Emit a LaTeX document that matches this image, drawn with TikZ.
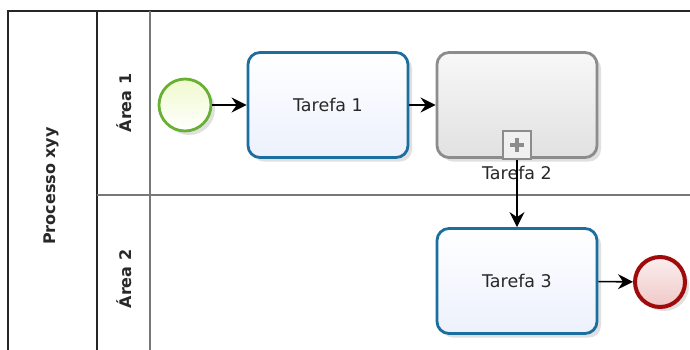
\documentclass[tikz,border=0pt]{standalone}
\usepackage{fontspec}
\setmainfont{DejaVu Sans}
\usetikzlibrary{arrows.meta,shadows}

\definecolor{taskline}{RGB}{28,110,158}
\definecolor{taskfill}{RGB}{236,241,253}
\definecolor{subline}{RGB}{140,140,140}
\definecolor{subfill}{RGB}{225,225,225}
\definecolor{startline}{RGB}{104,176,52}
\definecolor{startfill}{RGB}{240,250,205}
\definecolor{endline}{RGB}{160,10,10}
\definecolor{endfill}{RGB}{240,200,200}
\definecolor{laneline}{RGB}{120,120,120}
\definecolor{labeltext}{RGB}{40,40,40}

\tikzset{
  softshadow/.style={drop shadow={shadow xshift=4pt, shadow yshift=-4pt, opacity=0.12, fill=black}},
  task/.style={draw=taskline, line width=2.8pt, rounded corners=12pt,
    minimum width=160pt, minimum height=105pt, top color=white, bottom color=taskfill,
    text=labeltext, font=\fontsize{17.5}{20}\selectfont, softshadow},
  subtask/.style={task, draw=subline, top color=white!97!black, bottom color=subfill},
  startev/.style={circle, draw=startline, line width=2.8pt, minimum size=52pt,
    inner sep=0pt, top color=startfill, bottom color=white, softshadow},
  endev/.style={circle, draw=endline, line width=4pt, minimum size=50pt,
    inner sep=0pt, top color=white!70!endfill, bottom color=endfill, softshadow},
  lanetext/.style={rotate=90, text=labeltext, font=\bfseries\fontsize{16}{19}\selectfont},
  flow/.style={-{Stealth[length=15pt,width=15pt,inset=5pt]}, line width=1.6pt},
}

\begin{document}
\begin{tikzpicture}[x=1pt, y=-1pt]
  \useasboundingbox (0,0) rectangle (690,349);
  % pool and lanes
  \draw[line width=1.5pt, draw=black!85] (8,352) -- (8,11) -- (692,11);
  \draw[line width=1.5pt, draw=black!85] (97,11) -- (97,352);
  \draw[line width=1.5pt, draw=laneline] (150,11) -- (150,352);
  \draw[line width=1.5pt, draw=laneline] (97,195) -- (692,195);
  \node[lanetext] (pool) at (51,186) {Processo xyy};
  \node[lanetext] (lane1) at (124,103) {Área 1};
  \node[lanetext] (lane2) at (124,279) {Área 2};

  % events and tasks
  \node[startev] (start) at (185,105) {};
  \node[task] (t1) at (328,105) {Tarefa 1};
  \node[subtask] (t2) at (517,105) {};
  \node[task] (t3) at (517,281) {Tarefa 3};
  \node[endev] (end) at (660,282) {};

  % collapsed sub-process marker
  \node[draw=subline, line width=2pt, fill=white!94!black, minimum size=28pt,
    inner sep=0pt, anchor=south] (plus) at ([yshift=-1pt]t2.south) {};
  \draw[line width=4.5pt, draw=black!45] ([xshift=-7pt]plus.center) -- ([xshift=7pt]plus.center);
  \draw[line width=4.5pt, draw=black!45] ([yshift=-7pt]plus.center) -- ([yshift=7pt]plus.center);
  \node[text=labeltext, font=\fontsize{17.5}{20}\selectfont, below=4pt] (t2lbl) at (t2.south) {Tarefa 2};

  % sequence flows
  \draw[flow] (start) -- (t1);
  \draw[flow] (t1) -- (t2);
  \draw[flow] (plus.south) -- (t3.north);
  \draw[flow] (t3) -- (end);
\end{tikzpicture}
\end{document}
